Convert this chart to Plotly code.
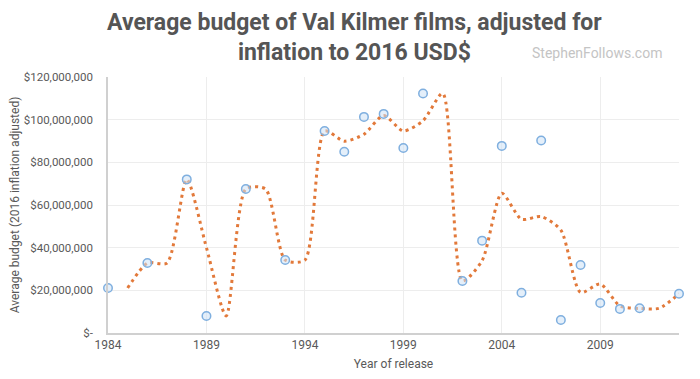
import plotly.graph_objects as go

# Film budgets (adjusted, USD millions) by release year
years = [1984, 1986, 1988, 1989, 1991, 1993, 1995, 1996, 1997, 1998, 1999, 2000,
         2002, 2003, 2004, 2005, 2006, 2007, 2008, 2009, 2010, 2011, 2013]
budgets_m = [21.1, 32.8, 72.0, 8.0, 67.5, 34.2, 94.7, 85.0, 101.3, 102.7, 86.7, 112.3,
             24.4, 43.3, 87.7, 18.9, 90.2, 6.1, 31.9, 14.1, 11.3, 11.6, 18.4]

# Dotted trend line (2-period moving average)
trend_years = list(range(1985, 2014))
trend_m = [21.1, 32.8, 32.8, 72.0, 40.0, 8.0, 67.5, 67.5, 34.2, 34.2, 94.7, 89.9,
           93.2, 102.0, 94.7, 99.5, 112.3, 24.4, 33.9, 65.5, 53.3, 54.6, 48.2,
           19.0, 23.0, 12.7, 11.5, 11.6, 18.4]

y_ticks_m = [0, 20, 40, 60, 80, 100, 120]
y_tick_labels = ["$-", "$20,000,000", "$40,000,000", "$60,000,000",
                 "$80,000,000", "$100,000,000", "$120,000,000"]
x_ticks = [1984, 1989, 1994, 1999, 2004, 2009]

budgets = [v * 1e6 for v in budgets_m]
trend = [v * 1e6 for v in trend_m]

fig = go.Figure()
fig.add_trace(go.Scatter(
    x=trend_years, y=trend, mode="lines",
    line=dict(color="#E2793A", width=3, dash="3px,4px", shape="spline", smoothing=0.7),
    hoverinfo="skip", showlegend=False, cliponaxis=False,
))
fig.add_trace(go.Scatter(
    x=years, y=budgets, mode="markers",
    marker=dict(symbol="circle", size=8.5, color="rgba(205,225,245,0.55)",
                line=dict(color="#7FAFDF", width=1.5)),
    showlegend=False, cliponaxis=False,
))

fig.update_layout(
    width=700, height=379,
    margin=dict(l=100, r=29, t=69, b=54),
    paper_bgcolor="white", plot_bgcolor="white",
    font=dict(family="Roboto, sans-serif", color="#595959", size=12),
    xaxis=dict(
        range=[1984, 2013], tickvals=x_ticks, ticktext=[str(t) for t in x_ticks],
        showgrid=True, gridcolor="#EDEDED", gridwidth=1, automargin=False,
        showline=True, linecolor="#D0D0D0", linewidth=1.5, zeroline=False,
        ticks="", tickfont=dict(size=12, color="#595959"),
        title=dict(text="Year of release", font=dict(size=12, color="#595959"), standoff=8),
    ),
    yaxis=dict(
        range=[0, 120e6], tickvals=[v * 1e6 for v in y_ticks_m], ticktext=y_tick_labels,
        showgrid=True, gridcolor="#EDEDED", gridwidth=1, automargin=False,
        showline=True, linecolor="#D0D0D0", linewidth=1.5, zeroline=False,
        ticks="", tickfont=dict(size=11.5, color="#595959"), ticklabelstandoff=11,
        title=dict(text="Average budget (2016 inflation adjusted)",
                   font=dict(size=12, color="#595959"), standoff=4),
    ),
    annotations=[
        dict(
            text="<b>Average budget of Val Kilmer films, adjusted for<br>inflation to 2016 USD$</b>",
            xref="paper", yref="paper", x=0.431, y=1.273, xanchor="center", yanchor="top",
            showarrow=False, align="center",
            font=dict(family="Roboto, sans-serif", size=23, color="#555555"),
        ),
        dict(
            text="StephenFollows.com", xref="paper", yref="paper",
            x=0.974, y=1.095, xanchor="right", yanchor="middle", showarrow=False,
            font=dict(family="Roboto, sans-serif", size=14, color="#C4C4C4"),
        ),
    ],
)

fig.write_html("out.html")
